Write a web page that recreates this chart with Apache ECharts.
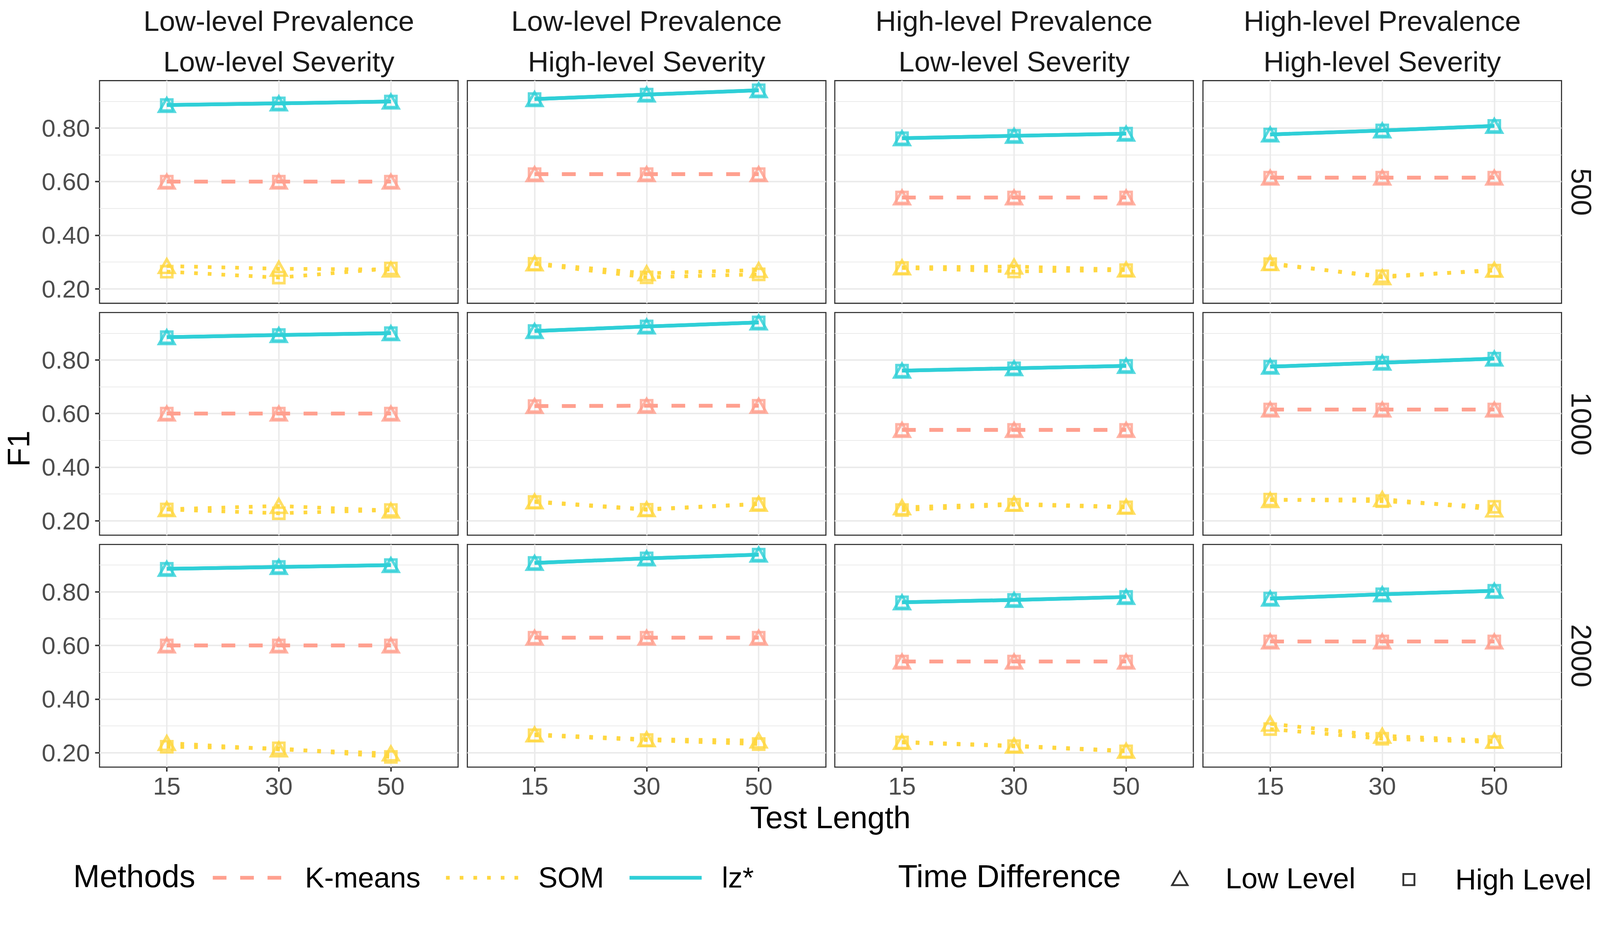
<!DOCTYPE html>
<html>
<head>
<meta charset="utf-8">
<script src="https://cdn.jsdelivr.net/npm/echarts@6/dist/echarts.min.js"></script>
<style>html,body{margin:0;padding:0;background:#fff;overflow:hidden}#c{width:100vw;height:100vh}</style>
</head>
<body>
<div id="c"></div>
<script>
// ---------------- data ----------------
const testLengths = ['15', '30', '50'];
const prevalenceLevels = ['Low-level Prevalence', 'Low-level Prevalence', 'High-level Prevalence', 'High-level Prevalence'];
const severityLevels = ['Low-level Severity', 'High-level Severity', 'Low-level Severity', 'High-level Severity'];
const sampleSizes = ['500', '1000', '2000'];
const methodNames = ['K-means', 'SOM', 'lz*'];
const timeLevels = ['Low Level', 'High Level'];
const yTicks = [0.2, 0.4, 0.6, 0.8];
const yMinorTicks = [0.3, 0.5, 0.7, 0.9];

// panels in row-major order (rows = sample size 500/1000/2000, cols = condition)
const kmeansLow = [
  [0.600, 0.600, 0.600], [0.628, 0.628, 0.628], [0.541, 0.541, 0.541], [0.615, 0.615, 0.615],
  [0.600, 0.600, 0.600], [0.628, 0.629, 0.629], [0.539, 0.539, 0.539], [0.615, 0.615, 0.615],
  [0.600, 0.600, 0.600], [0.629, 0.629, 0.629], [0.540, 0.540, 0.540], [0.615, 0.615, 0.615]
];
const kmeansHigh = [
  [0.600, 0.600, 0.600], [0.628, 0.628, 0.628], [0.541, 0.541, 0.541], [0.615, 0.615, 0.615],
  [0.600, 0.600, 0.600], [0.628, 0.629, 0.629], [0.539, 0.539, 0.539], [0.615, 0.615, 0.615],
  [0.600, 0.600, 0.600], [0.629, 0.629, 0.629], [0.540, 0.540, 0.540], [0.615, 0.615, 0.615]
];
const somLow = [
  [0.285, 0.275, 0.272], [0.295, 0.258, 0.270], [0.280, 0.283, 0.272], [0.296, 0.243, 0.271],
  [0.243, 0.255, 0.238], [0.272, 0.243, 0.263], [0.250, 0.263, 0.252], [0.277, 0.281, 0.242],
  [0.236, 0.212, 0.197], [0.268, 0.250, 0.245], [0.240, 0.226, 0.207], [0.308, 0.263, 0.244]
];
const somHigh = [
  [0.264, 0.242, 0.276], [0.293, 0.243, 0.254], [0.278, 0.265, 0.270], [0.292, 0.247, 0.268],
  [0.242, 0.228, 0.240], [0.270, 0.241, 0.262], [0.240, 0.260, 0.250], [0.279, 0.273, 0.252],
  [0.222, 0.216, 0.184], [0.265, 0.247, 0.232], [0.238, 0.224, 0.205], [0.288, 0.252, 0.240]
];
const lzLow = [
  [0.886, 0.892, 0.899], [0.908, 0.925, 0.941], [0.762, 0.771, 0.779], [0.776, 0.791, 0.808],
  [0.885, 0.893, 0.900], [0.908, 0.925, 0.940], [0.760, 0.769, 0.778], [0.775, 0.790, 0.805],
  [0.886, 0.893, 0.900], [0.908, 0.925, 0.939], [0.761, 0.770, 0.781], [0.775, 0.791, 0.804]
];
const lzHigh = [
  [0.886, 0.892, 0.899], [0.908, 0.925, 0.941], [0.762, 0.771, 0.779], [0.776, 0.791, 0.808],
  [0.885, 0.893, 0.900], [0.908, 0.925, 0.940], [0.760, 0.769, 0.778], [0.775, 0.790, 0.805],
  [0.886, 0.893, 0.900], [0.908, 0.925, 0.939], [0.761, 0.770, 0.781], [0.775, 0.791, 0.804]
];

// ---------------- styling / layout ----------------
const dom = document.getElementById('c');
const VW = dom.clientWidth || window.innerWidth, VH = dom.clientHeight || window.innerHeight;
const S = Math.min(VW / 4324, VH / 2433);
const px = v => v * S;

const FONT = 'Liberation Sans';
const methodValues = {
  'K-means': [kmeansLow, kmeansHigh],
  'SOM': [somLow, somHigh],
  'lz*': [lzLow, lzHigh]
};
const methodColor = { 'K-means': '#FFA08F', 'SOM': '#FFD740', 'lz*': '#2FCFD7' };
const methodDash = { 'K-means': [px(37), px(37)], 'SOM': [px(10), px(27)], 'lz*': 'solid' };
const LINE_W = px(10);
const Y_MIN = 0.146, Y_MAX = 0.977;
const colLeft = [269, 1263, 2256, 3251];
const rowTop = [218, 845, 1472];
const PW = 969, PH = 602;

const grids = [], xAxes = [], yAxes = [], series = [], texts = [];

for (let r = 0; r < 3; r++) {
  for (let c = 0; c < 4; c++) {
    const idx = r * 4 + c;
    grids.push({
      left: px(colLeft[c]), top: px(rowTop[r]), width: px(PW), height: px(PH),
      show: true, borderColor: '#333333', borderWidth: px(3), backgroundColor: '#ffffff',
      containLabel: false, outerBoundsMode: 'none'
    });
    xAxes.push({
      type: 'value', gridIndex: idx, min: 0.4, max: 3.6,
      axisLine: { show: false },
      axisTick: { show: r === 2, customValues: [1, 2, 3], length: px(12), lineStyle: { color: '#333333', width: px(4) } },
      axisLabel: {
        show: r === 2, customValues: [1, 2, 3], margin: px(18),
        formatter: v => testLengths[Math.round(v) - 1],
        fontSize: px(67), fontFamily: FONT, color: '#4D4D4D'
      },
      splitLine: { show: true, lineStyle: { color: '#EBEBEB', width: px(4) } }
    });
    yAxes.push({
      type: 'value', gridIndex: idx, min: Y_MIN, max: Y_MAX,
      axisLine: { show: false },
      axisTick: { show: c === 0, customValues: yTicks, length: px(12), lineStyle: { color: '#333333', width: px(4) } },
      axisLabel: {
        show: c === 0, customValues: yTicks, margin: px(26),
        formatter: v => v.toFixed(2),
        fontSize: px(67), fontFamily: FONT, color: '#4D4D4D'
      },
      splitLine: { show: true, lineStyle: { color: '#EBEBEB', width: px(4) } }
    });
    // minor grid lines (kept below the data)
    series.push({
      type: 'line', xAxisIndex: idx, yAxisIndex: idx, data: [], silent: true, z: 0,
      markLine: {
        silent: true, z: 0, symbol: ['none', 'none'], label: { show: false },
        lineStyle: { color: '#EBEBEB', width: px(2), type: 'solid' },
        emphasis: { disabled: true },
        data: yMinorTicks.map(v => ({ yAxis: v }))
      }
    });
    // lines
    methodNames.forEach(m => {
      timeLevels.forEach((t, ti) => {
        const vals = methodValues[m][ti][idx];
        series.push({
          type: 'line', name: m + ' / ' + t + ' / ' + idx,
          xAxisIndex: idx, yAxisIndex: idx,
          data: vals.map((v, i) => [i + 1, v]),
          symbol: 'none', showSymbol: false, silent: true, z: 3,
          lineStyle: { color: methodColor[m], width: LINE_W, type: methodDash[m], cap: 'butt' }
        });
      });
    });
    // points
    methodNames.forEach(m => {
      timeLevels.forEach((t, ti) => {
        const vals = methodValues[m][ti][idx];
        series.push({
          type: 'scatter', name: m + ' pts / ' + t + ' / ' + idx,
          xAxisIndex: idx, yAxisIndex: idx,
          data: vals.map((v, i) => [i + 1, v]),
          symbol: ti === 0 ? 'triangle' : 'rect',
          symbolSize: ti === 0 ? [px(42), px(37)] : [px(30), px(30)],
          silent: true, z: 4,
          itemStyle: { color: 'rgba(0,0,0,0)', borderColor: methodColor[m], borderWidth: px(7) }
        });
      });
    });
  }
}

// legend dummy series
methodNames.forEach(m => {
  series.push({
    type: 'line', name: m, xAxisIndex: 0, yAxisIndex: 0, data: [], symbol: 'none', showSymbol: false,
    itemStyle: { color: methodColor[m], opacity: 0 },
    lineStyle: { color: methodColor[m], width: LINE_W, type: methodDash[m], cap: 'butt' }
  });
});
timeLevels.forEach((t, ti) => {
  series.push({
    type: 'scatter', name: t, xAxisIndex: 0, yAxisIndex: 0, data: [],
    symbol: ti === 0 ? 'triangle' : 'rect',
    itemStyle: { color: 'rgba(0,0,0,0)', borderColor: '#000000', borderWidth: px(5) }
  });
});

// strip titles etc.
const txt = (x, y, text, size, fill, align, rotation) => ({
  type: 'text', x: px(x), y: px(y), rotation: rotation || 0, silent: true,
  style: { text: text, fontSize: px(size), fontFamily: FONT, fill: fill, align: align || 'center', verticalAlign: 'middle' }
});
for (let c = 0; c < 4; c++) {
  const cx = colLeft[c] + PW / 2;
  texts.push(txt(cx, 57, prevalenceLevels[c], 77, '#1A1A1A'));
  texts.push(txt(cx, 166, severityLevels[c], 77, '#1A1A1A'));
}
for (let r = 0; r < 3; r++) {
  texts.push(txt(4274, rowTop[r] + PH / 2, sampleSizes[r], 77, '#1A1A1A', 'center', -Math.PI / 2));
}
texts.push(txt(50, 1213, 'F1', 84, '#000000', 'center', Math.PI / 2));
texts.push(txt(2244, 2210, 'Test Length', 84, '#000000'));
texts.push(txt(198, 2368, 'Methods', 86, '#000000', 'left'));
texts.push(txt(2427, 2368, 'Time Difference', 86, '#000000', 'left'));

const legendText = { fontSize: px(78), fontFamily: FONT, color: '#000000' };
const option = {
  animation: false,
  backgroundColor: '#ffffff',
  grid: grids,
  xAxis: xAxes,
  yAxis: yAxes,
  series: series,
  graphic: { elements: texts },
  legend: [
    {
      data: methodNames, left: px(570), top: px(2354 - 20), padding: 0, orient: 'horizontal',
      itemWidth: px(195), itemHeight: px(40), itemGap: px(64), selectedMode: false,
      lineStyle: { width: LINE_W },
      itemStyle: { opacity: 0 },
      textStyle: Object.assign({ padding: [0, 0, 0, px(49)] }, legendText)
    },
    {
      data: [{ name: 'Low Level', icon: 'triangle' }], left: px(3165), top: px(2354 - 18.5), padding: 0,
      itemWidth: px(42), itemHeight: px(37), selectedMode: false,
      itemStyle: { color: 'rgba(0,0,0,0)', borderColor: '#000000', borderWidth: px(5) },
      textStyle: Object.assign({ padding: [0, 0, 0, px(97)] }, legendText)
    },
    {
      data: [{ name: 'High Level', icon: 'rect' }], left: px(3790), top: px(2354 - 15), padding: 0,
      itemWidth: px(30), itemHeight: px(30), selectedMode: false,
      itemStyle: { color: 'rgba(0,0,0,0)', borderColor: '#000000', borderWidth: px(5) },
      textStyle: Object.assign({ padding: [0, 0, 0, px(105)] }, legendText)
    }
  ]
};

const chart = echarts.init(dom, null, { renderer: 'svg' });
chart.setOption(option);
</script>
</body>
</html>
